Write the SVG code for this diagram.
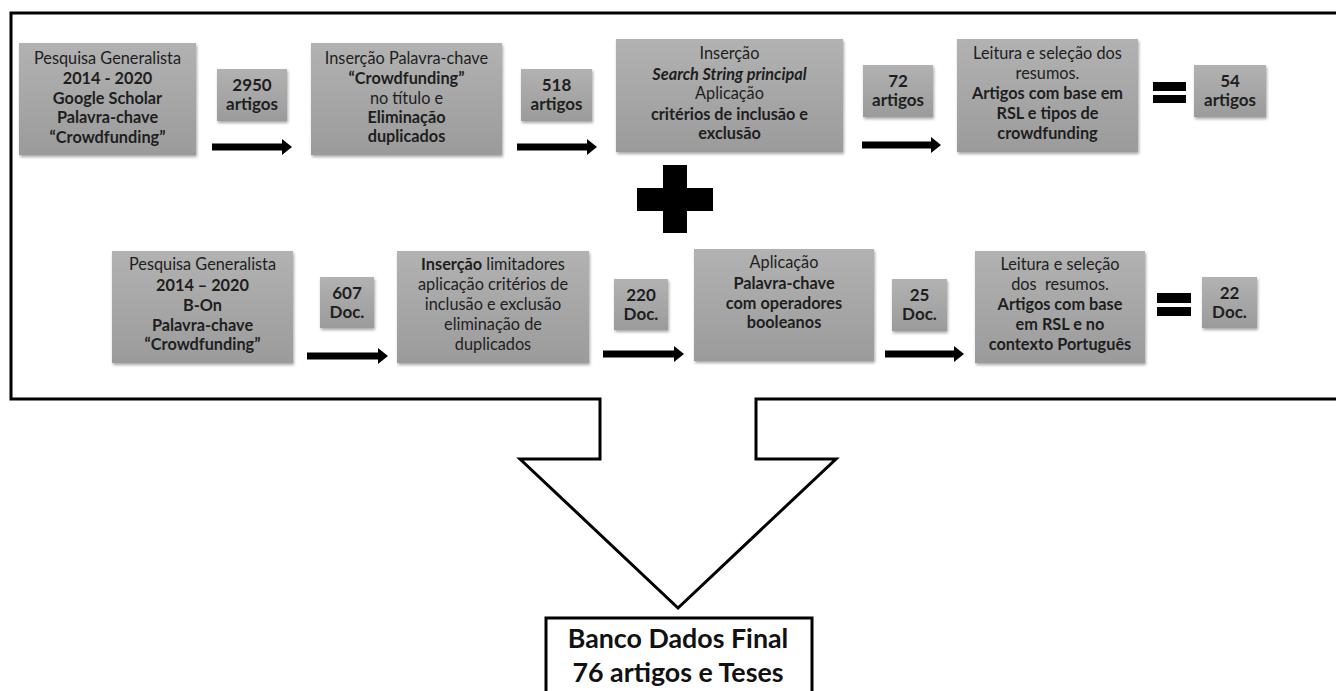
<svg xmlns="http://www.w3.org/2000/svg" width="1336" height="691" viewBox="0 0 1336 691">
<style>
text{font-family:Lato,"Liberation Sans",sans-serif;font-size:16.3px;fill:#1e1e1e;text-anchor:middle}
.b{font-weight:bold}
.bi{font-weight:bold;font-style:italic}
.s{font-weight:bold;font-size:17px}
.box{fill:url(#g);filter:url(#sh)}
.big{font-size:26.8px;font-weight:bold;fill:#111}
.sym{fill:#000}
.frame{fill:none;stroke:#000;stroke-width:3}
.conn{stroke:#000;stroke-width:7;marker-end:url(#ah)}
</style>
<defs>
<linearGradient id="g" x1="0" y1="0" x2="0" y2="1">
<stop offset="0" stop-color="#b2b2b2"/>
<stop offset="1" stop-color="#9b9b9b"/>
</linearGradient>
<filter id="sh" x="-10%" y="-10%" width="120%" height="130%">
<feDropShadow dx="1" dy="2" stdDeviation="1.5" flood-color="#000" flood-opacity="0.35"/>
</filter>
<marker id="ah" markerUnits="userSpaceOnUse" markerWidth="10" markerHeight="16" viewBox="0 0 10 16" refX="0" refY="8" orient="auto">
<path d="M0,0 L10,8 L0,16 z" fill="#000"/>
</marker>
</defs>
<rect width="1336" height="691" fill="#fff"/>

<g id="frame">
<path class="frame" d="M1337,13 H11 V399 H600 V459 H520 L678,608 L836,459 H756 V399 H1337"/>
</g>

<g id="connectors">
<line class="conn" x1="212" y1="147" x2="282" y2="147"/>
<line class="conn" x1="517" y1="147" x2="587" y2="147"/>
<line class="conn" x1="862" y1="145" x2="931" y2="145"/>
<line class="conn" x1="307" y1="356" x2="378" y2="356"/>
<line class="conn" x1="603" y1="354" x2="674" y2="354"/>
<line class="conn" x1="885" y1="354" x2="954" y2="354"/>
</g>

<g id="n1">
<rect class="box" x="19" y="43" width="177" height="112"/>
<text x="107.5" y="64">Pesquisa Generalista</text>
<text class="b" x="107.5" y="84">2014 - 2020</text>
<text class="b" x="107.5" y="104">Google Scholar</text>
<text class="b" x="107.5" y="123">Palavra-chave</text>
<text class="b" x="107.5" y="143">“Crowdfunding”</text>
</g>
<g id="c1">
<rect class="box" x="217" y="69" width="70" height="52"/>
<text class="s" x="252" y="91">2950</text>
<text class="s" x="252" y="110">artigos</text>
</g>
<g id="n2">
<rect class="box" x="311" y="43" width="191" height="112"/>
<text x="406.5" y="64">Inserção Palavra-chave</text>
<text class="b" x="406.5" y="84">“Crowdfunding”</text>
<text x="406.5" y="104">no título e</text>
<text class="b" x="406.5" y="123">Eliminação</text>
<text class="b" x="406.5" y="142">duplicados</text>
</g>
<g id="c2">
<rect class="box" x="521" y="69" width="71" height="52"/>
<text class="s" x="556.5" y="91">518</text>
<text class="s" x="556.5" y="110">artigos</text>
</g>
<g id="n3">
<rect class="box" x="616" y="39" width="227" height="113"/>
<text x="729.5" y="59">Inserção</text>
<text class="bi" x="729.5" y="80">Search String principal</text>
<text x="729.5" y="99">Aplicação</text>
<text class="b" x="729.5" y="120">critérios de inclusão  e</text>
<text class="b" x="729.5" y="139">exclusão</text>
</g>
<g id="c3">
<rect class="box" x="863" y="65" width="70" height="52"/>
<text class="s" x="898" y="87">72</text>
<text class="s" x="898" y="106">artigos</text>
</g>
<g id="n4">
<rect class="box" x="957" y="39" width="181" height="113"/>
<text x="1047.5" y="59">Leitura e seleção dos</text>
<text x="1047.5" y="79">resumos.</text>
<text class="b" x="1047.5" y="99">Artigos com base em</text>
<text class="b" x="1047.5" y="119">RSL e tipos de</text>
<text class="b" x="1047.5" y="139">crowdfunding</text>
</g>
<g id="eq1">
<rect class="sym" x="1153" y="82" width="33" height="9"/>
<rect class="sym" x="1153" y="95" width="33" height="8"/>
</g>
<g id="c4">
<rect class="box" x="1194" y="65" width="72" height="52"/>
<text class="s" x="1230" y="87">54</text>
<text class="s" x="1230" y="106">artigos</text>
</g>

<g id="plus">
<rect class="sym" x="663" y="165" width="24" height="68"/>
<rect class="sym" x="637" y="188" width="76" height="23"/>
</g>

<g id="n5">
<rect class="box" x="112" y="251" width="181" height="112"/>
<text x="202.5" y="270">Pesquisa Generalista</text>
<text class="b" x="202.5" y="291">2014 – 2020</text>
<text class="b" x="202.5" y="311">B-On</text>
<text class="b" x="202.5" y="331">Palavra-chave</text>
<text class="b" x="202.5" y="350">“Crowdfunding”</text>
</g>
<g id="c5">
<rect class="box" x="320" y="277" width="54" height="51"/>
<text class="s" x="347" y="299">607</text>
<text class="s" x="347" y="318">Doc.</text>
</g>
<g id="n6">
<rect class="box" x="397" y="251" width="192" height="112"/>
<text x="493" y="270"><tspan class="b">Inserção</tspan> limitadores</text>
<text x="493" y="290">aplicação critérios de</text>
<text x="493" y="310">inclusão e exclusão</text>
<text x="493" y="330">eliminação de</text>
<text x="493" y="350">duplicados</text>
</g>
<g id="c6">
<rect class="box" x="614" y="279" width="54" height="51"/>
<text class="s" x="641" y="301">220</text>
<text class="s" x="641" y="320">Doc.</text>
</g>
<g id="n7">
<rect class="box" x="694" y="249" width="180" height="112"/>
<text x="784" y="268">Aplicação</text>
<text class="b" x="784" y="289">Palavra-chave</text>
<text class="b" x="784" y="309">com operadores</text>
<text class="b" x="784" y="328">booleanos</text>
</g>
<g id="c7">
<rect class="box" x="892" y="279" width="55" height="52"/>
<text class="s" x="919.5" y="301">25</text>
<text class="s" x="919.5" y="320">Doc.</text>
</g>
<g id="n8">
<rect class="box" x="975" y="251" width="170" height="112"/>
<text x="1060" y="270">Leitura e seleção</text>
<text x="1060" y="290" xml:space="preserve">dos  resumos.</text>
<text class="b" x="1060" y="310">Artigos com base</text>
<text class="b" x="1060" y="330">em RSL e no</text>
<text class="b" x="1060" y="350">contexto Português</text>
</g>
<g id="eq2">
<rect class="sym" x="1157" y="293" width="34" height="10"/>
<rect class="sym" x="1157" y="307" width="34" height="9"/>
</g>
<g id="c8">
<rect class="box" x="1202" y="277" width="55" height="51"/>
<text class="s" x="1229.5" y="299">22</text>
<text class="s" x="1229.5" y="318">Doc.</text>
</g>

<g id="final">
<rect x="546" y="618" width="266" height="90" fill="#fff" stroke="#000" stroke-width="3"/>
<text class="big" x="678" y="648">Banco Dados Final</text>
<text class="big" x="678" y="682">76 artigos e Teses</text>
</g>
</svg>
